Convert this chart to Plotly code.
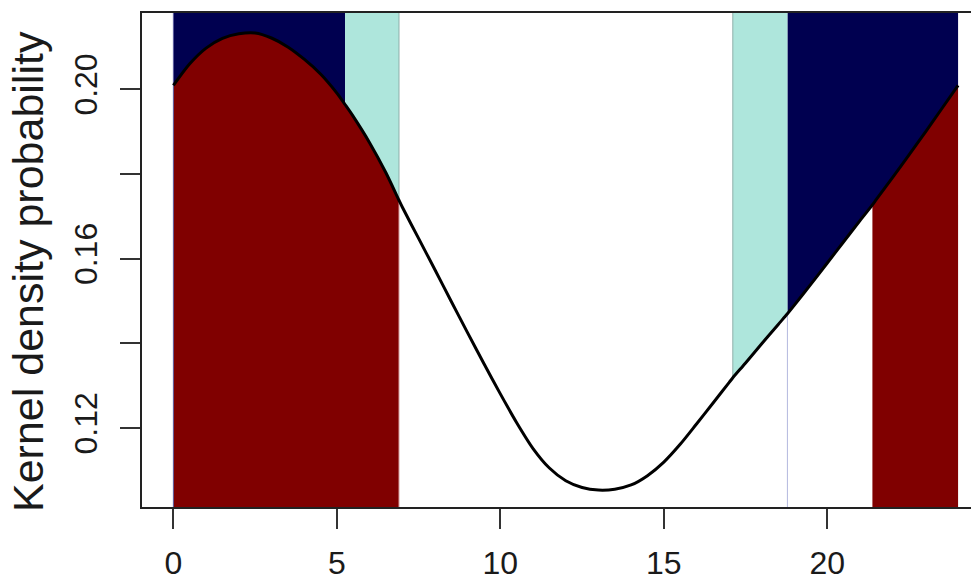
import plotly.graph_objects as go

# ---- data ----
hour = [0.0, 0.5, 1.0, 1.5, 2.0, 2.5, 3.0, 3.5, 4.0, 4.5, 5.0, 5.25, 5.5, 6.0, 6.5, 6.9,
        7.0, 7.5, 8.0, 8.5, 9.0, 9.5, 10.0, 10.5, 11.0, 11.5, 12.0, 12.5, 13.0, 13.5,
        14.0, 14.5, 15.0, 15.5, 16.0, 16.5, 17.0, 17.11, 17.5, 18.0, 18.5, 18.78, 19.0,
        19.5, 20.0, 20.5, 21.0, 21.38, 21.5, 22.0, 22.5, 23.0, 23.5, 24.0]
density = [0.2009, 0.2060, 0.2097, 0.2120, 0.2131, 0.2133, 0.2121, 0.2100, 0.2071, 0.2036,
           0.1991, 0.1964, 0.1936, 0.1874, 0.1803, 0.1738, 0.1722, 0.1648, 0.1574, 0.1499,
           0.1425, 0.1352, 0.1281, 0.1213, 0.1152, 0.1106, 0.1076, 0.1060, 0.1054, 0.1056,
           0.1066, 0.1088, 0.1120, 0.1162, 0.1210, 0.1259, 0.1308, 0.1319, 0.1354, 0.1400,
           0.1445, 0.1470, 0.1491, 0.1540, 0.1590, 0.1640, 0.1690, 0.1727, 0.1740, 0.1792,
           0.1845, 0.1899, 0.1954, 0.2009]

night_intervals = [(0.0, 5.25), (18.78, 24.0)]      # navy, above curve
twilight_intervals = [(5.25, 6.9), (17.11, 18.78)]  # pale turquoise, above curve
activity_intervals = [(0.0, 6.9), (21.38, 24.0)]    # dark red, below curve

x_ticks = [0, 5, 10, 15, 20, 25]
y_ticks = [0.12, 0.14, 0.16, 0.18, 0.20]
y_tick_text = ["0.12", "", "0.16", "", "0.20"]
y_label = "Kernel density probability"

# ---- style / layout ----
X_RANGE = [-0.96, 24.64]
Y_RANGE = [0.1014, 0.2180]
NAVY = "#000050"
DARKRED = "#800000"
TURQ = "#AEE6DC"
FONT = "Liberation Sans, Arial, sans-serif"


def segment(a, b):
    xs, ys = [], []
    for h, d in zip(hour, density):
        if a - 1e-9 <= h <= b + 1e-9:
            xs.append(h)
            ys.append(d)
    return xs, ys


def curve_at(h):
    return density[hour.index(h)]


fig = go.Figure()


def add_poly(xs, ys, color):
    fig.add_trace(go.Scatter(x=xs, y=ys, fill="toself", fillcolor=color, mode="lines",
                             line=dict(width=0, color=color), hoverinfo="skip", showlegend=False))


# above-curve regions
for (a, b), col in [(iv, NAVY) for iv in night_intervals] + [(iv, TURQ) for iv in twilight_intervals]:
    xs, ys = segment(a, b)
    add_poly(xs + [b, a, a], ys + [Y_RANGE[1], Y_RANGE[1], ys[0]], col)

# below-curve regions
for a, b in activity_intervals:
    xs, ys = segment(a, b)
    add_poly(xs + [b, a, a], ys + [Y_RANGE[0], Y_RANGE[0], ys[0]], DARKRED)


# thin border lines
def vline(x, y0, y1, color):
    fig.add_trace(go.Scatter(x=[x, x], y=[y0, y1], mode="lines",
                             line=dict(width=1, color=color), hoverinfo="skip", showlegend=False))


vline(night_intervals[0][0], Y_RANGE[0], Y_RANGE[1], "#5a5a9e")
vline(night_intervals[1][0], Y_RANGE[0], curve_at(night_intervals[1][0]), "#b4b8de")
vline(twilight_intervals[0][1], curve_at(twilight_intervals[0][1]), Y_RANGE[1], "#8fb0aa")
vline(twilight_intervals[1][0], curve_at(twilight_intervals[1][0]), Y_RANGE[1], "#8fb0aa")
vline(activity_intervals[0][1], Y_RANGE[0], curve_at(activity_intervals[0][1]), "#d49a9a")

# the density curve
fig.add_trace(go.Scatter(x=hour, y=density, mode="lines",
                         line=dict(color="black", width=3, shape="spline", smoothing=0.8),
                         hoverinfo="skip", showlegend=False))

axis_common = dict(showgrid=False, zeroline=False, showline=True, linecolor="#222222",
                   linewidth=2, ticks="outside", ticklen=20, tickwidth=1.5, automargin=False,
                   tickcolor="#333333", tickfont=dict(family=FONT, size=32, color="#1a1a1a"))

# the page body adds an 8 px offset; margins compensate so the plot box sits
# at x 142..979, y 13..507 in the window
fig.update_layout(
    width=979, height=579,
    margin=dict(l=134, r=8, t=5, b=80),
    paper_bgcolor="white", plot_bgcolor="white",
    xaxis=dict(range=X_RANGE, tickvals=x_ticks, mirror=True, ticklabelstandoff=7, **axis_common),
    yaxis=dict(range=Y_RANGE, tickvals=y_ticks, ticktext=y_tick_text, tickangle=-90,
               ticklabelstandoff=10, **axis_common),
    annotations=[dict(text=y_label, xref="paper", yref="paper", x=-0.136, y=0.476,
                      xanchor="center", yanchor="middle", textangle=-90, showarrow=False,
                      font=dict(family=FONT, size=43, color="#1a1a1a"))],
)

fig.write_html("out.html")
